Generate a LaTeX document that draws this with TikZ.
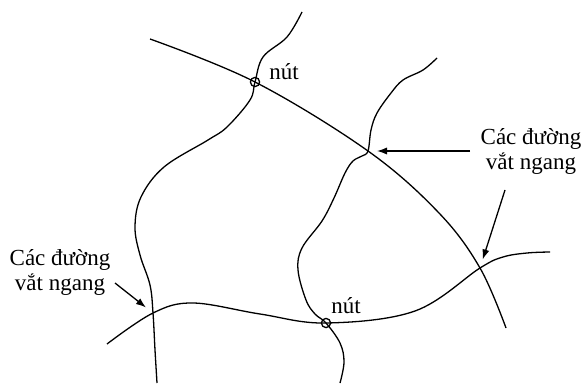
\documentclass[tikz,border=0pt]{standalone}
\usepackage{fontspec}
\setmainfont{Liberation Serif}
\usetikzlibrary{arrows.meta}
\tikzset{pointer/.style = {-{Latex[length=5pt, width=3.6pt]}, shorten > = 4.5pt}}
\tikzset{knot/.style = {draw, circle, inner sep = 0, minimum size = 4.6pt}}
\tikzset{lbl/.style = {align = center, inner sep = 5pt, font = \fontsize{11.5}{12.5}\selectfont}}

\begin{document}
\begin{tikzpicture}[x=0.5pt, y=-0.5pt, line width=0.65pt]
    \useasboundingbox (0,0) rectangle (582,385);
    \node[knot] (nut1) at (255,82) {};
    \node[knot] (nut2) at (326,323) {};
    \coordinate (cross1) at (368,151);
    \coordinate (cross2) at (480,268);
    \coordinate (cross3) at (153,313);
    % mesh lines
    \draw plot[smooth, tension=0.6] coordinates {(150,39) (nut1.center) (cross1) (439,213) (cross2) (506,328)};
    \draw plot[smooth, tension=0.6] coordinates {(107,344) (cross3) (193,303) (260,314) (nut2.center) (415,311) (cross2) (503,257) (527,253) (550,252)};
    \draw plot[smooth, tension=0.6] coordinates {(302,12) (287,37) (263,57) (nut1.center) (250,100) (227,127) (208,140) (164,167) (141,197) (135,227) (140,255) (150,285) (cross3) (155,350) (157,383)};
    \draw plot[smooth, tension=0.6] coordinates {(437,58) (423,70) (403,80) (391,93) (377,113) (371,130) (cross1) (362,156) (353,161) (345,173) (334,198) (322,221) (302,248) (298,270) (306,300) (315,314) (nut2.center) (340,343) (344,362) (340,383)};
    % labels
    \node at (284,80) [anchor=base, lbl] (nutA) {nút};
    \node at (346,313) [anchor=base, lbl] (nutB) {nút};
    \node[lbl] (lblR) at (531,151) {Các đường\\vắt ngang};
    \node[lbl] (lblL) at (60,272) {Các đường\\vắt ngang};
    \coordinate (tailR) at (505,190);
    \coordinate (tailL) at (115,283);
    \draw[pointer] (lblR.west) -- (cross1);
    \draw[pointer] (tailR) -- (cross2);
    \draw[pointer] (tailL) -- (cross3);
\end{tikzpicture}
\end{document}
